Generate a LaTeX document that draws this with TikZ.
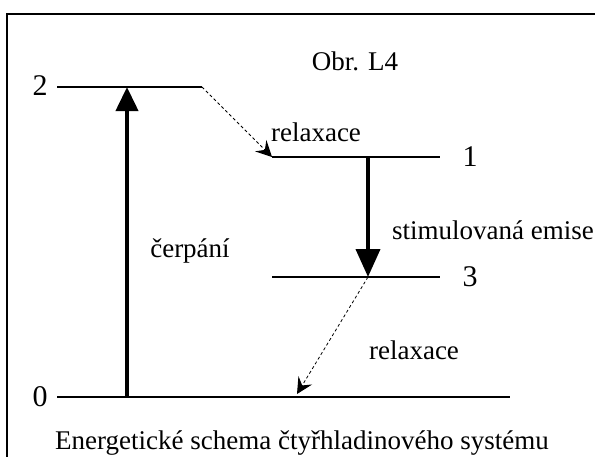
\documentclass[tikz,border=0pt]{standalone}
\usepackage{fontspec}
\setmainfont{Liberation Serif}
\usetikzlibrary{arrows.meta}
\begin{document}
\begin{tikzpicture}[x=1pt,y=-1pt,font=\fontsize{27}{31}\selectfont,
  level/.style={line width=2.6pt},
  num/.style={font=\fontsize{30}{34}\selectfont},
  pump/.style={line width=4pt,-{Triangle[width=22pt,length=24pt]}},
  relax/.style={line width=0.8pt,dash pattern=on 3pt off 2.5pt,-{Stealth[width=16pt,length=16pt,inset=6pt,line width=1pt]}}]
\useasboundingbox (0,0) rectangle (595,456);
% frame
\draw[line width=1.5pt] (7,480) -- (7,14) -- (620,14);
% levels
\coordinate (a2) at (57,87);  \coordinate (b2) at (202,87);
\coordinate (a1) at (272,157); \coordinate (b1) at (440,157);
\coordinate (a3) at (272,277); \coordinate (b3) at (440,277);
\coordinate (a0) at (57,397);  \coordinate (b0) at (510,397);
\draw[level] (a2) -- (b2);
\draw[level] (a1) -- (b1);
\draw[level] (a3) -- (b3);
\draw[level] (a0) -- (b0);
\node[num] (n2) at (40,86) {2};
\node[num] (n1) at (470,157) {1};
\node[num] (n3) at (470,277) {3};
\node[num] (n0) at (40,397) {0};
% transitions
\coordinate (p0) at (127,397); \coordinate (p2) at (127,87);
\coordinate (s1) at (368,157); \coordinate (s3) at (368,277);
\coordinate (r0) at (297,394);
\draw[pump] (p0) -- (p2);
\draw[pump,-{Triangle[width=24pt,length=28pt]}] (s1) -- (s3);
\draw[relax] (b2) -- (a1);
\draw[relax] (s3) -- (r0);
% labels
\node (obr) at (355,61) {Obr. L4};
\node (rel1) at (316,132) {relaxace};
\node (stim) at (493,230) {stimulovaná emise};
\node (cerp) at (190,251) {čerpání};
\node (rel2) at (414,350) {relaxace};
\node (cap) at (302,443) {Energetické schema čtyřhladinového systému};
\end{tikzpicture}
\end{document}
